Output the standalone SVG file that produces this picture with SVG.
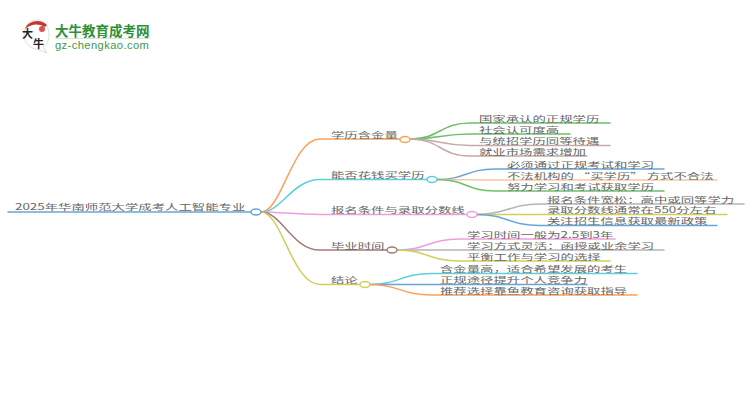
<svg xmlns="http://www.w3.org/2000/svg" width="750" height="410" viewBox="0 0 750 410">
<style>
text{font-family:"Noto Sans CJK SC","Liberation Sans",sans-serif;fill:#666;font-size:13.4px}
.c path{fill:none;stroke-width:1.5;stroke-linecap:round}
.n{fill:#fff;stroke-width:1.5}
.o{stroke:#f9a25c}.b{stroke:#5cd0df}.p{stroke:#ef9fdc}.m{stroke:#a87a78}.y{stroke:#cfcf5a}.g{stroke:#6fbf6b}.r{stroke:#c4aaa6}.l{stroke:#6aa5d8}.a{stroke:#f9c9a0}.k{stroke:#b5b5b5}
</style>
<rect width="750" height="410" fill="#fff"/>
<g id="logo">
<path d="M37 20C29 20 24 27 24 35C24 43 30 48 36 49L47 53L43 47C47 44 49 40 49 35C49 27 45 20 37 20Z" fill="#fff" stroke="#ddd" stroke-width="1"/>
<path d="M25 29C28 21 40 18 47 25L45 27C38 23 31 24 25 29Z" fill="#c8352b"/>
<circle cx="42" cy="29" r="3" fill="#d9534f"/>
<text x="22" y="38" style="font-size:11px;fill:#222;font-weight:700">大</text>
<text x="33" y="47.500" style="font-size:11px;fill:#222;font-weight:700">牛</text>
<text x="55" y="36" style="font-size:13.500px;font-weight:700;fill:#2f8f3a">大牛教育成考网</text>
<rect x="55" y="38" width="95" height="1" fill="#d5e5d5"/>
<text x="55" y="49" style="font-size:11.200px;fill:#3d9a48;font-family:'Liberation Sans',sans-serif;letter-spacing:.4px">gz-chengkao.com</text>
</g>
<g id="connectors" class="c">
<path class="l" d="M8 212H251"/>
<path class="o" d="M261 212C282 212 292 139 320 139H400"/>
<path class="b" d="M261 212C282 212 292 179.500 320 179.500H427"/>
<path class="p" d="M261 212C282 212 292 214.500 320 214.500H467"/>
<path class="m" d="M261 212C282 212 292 250 320 250H387"/>
<path class="y" d="M261 212C282 212 292 284.500 320 284.500H360"/>
<path class="g" d="M410 139C440 139 440 123 470 123H610"/>
<path class="g" d="M410 139C440 139 440 134 470 134H570"/>
<path class="r" d="M410 139C440 139 440 145.500 470 145.500H610"/>
<path class="r" d="M410 139C440 139 440 156 470 156H587"/>
<path class="l" d="M437 179.500C466 179.500 466 169 495 169H664"/>
<path class="a" d="M437 179.500C466 179.500 466 180 495 180H717"/>
<path class="g" d="M437 179.500C466 179.500 466 191 495 191H664"/>
<path class="k" d="M477 214.500C508 214.500 508 204 540 204H744"/>
<path class="y" d="M477 214.500C508 214.500 508 214.500 540 214.500H727"/>
<path class="l" d="M477 214.500C508 214.500 508 225.500 540 225.500H717"/>
<path class="p" d="M397 250C428 250 428 239 460 239H615"/>
<path class="k" d="M397 250C428 250 428 250 460 250H664"/>
<path class="y" d="M397 250C428 250 428 261 460 261H610"/>
<path class="b" d="M370 284.500C400 284.500 400 273.500 432 273.500H637"/>
<path class="l" d="M370 284.500C400 284.500 400 284.500 432 284.500H587"/>
<path class="o" d="M370 284.500C400 284.500 400 295 432 295H637"/>
</g>
<g id="root"><text transform="translate(15 210) scale(1 .62)">2025年华南师范大学成考人工智能专业</text><ellipse class="n l" cx="256" cy="212" rx="5" ry="3"/></g>
<g id="n1"><text transform="translate(331 137.500) scale(1 .62)">学历含金量</text><ellipse class="n o" cx="405" cy="139.500" rx="5" ry="3"/></g>
<g id="n2"><text transform="translate(331 178) scale(1 .62)">能否花钱买学历</text><ellipse class="n b" cx="432" cy="179.500" rx="5" ry="3"/></g>
<g id="n3"><text transform="translate(331 213) scale(1 .62)">报名条件与录取分数线</text><ellipse class="n p" cx="472" cy="214.500" rx="5" ry="3"/></g>
<g id="n4"><text transform="translate(331 248.500) scale(1 .62)">毕业时间</text><ellipse class="n m" cx="392" cy="250" rx="5" ry="3"/></g>
<g id="n5"><text transform="translate(331 283) scale(1 .62)">结论</text><ellipse class="n y" cx="365" cy="284.500" rx="5" ry="3"/></g>
<g id="l11"><text transform="translate(479 121.500) scale(1 .62)">国家承认的正规学历</text></g>
<g id="l12"><text transform="translate(479 132.500) scale(1 .62)">社会认可度高</text></g>
<g id="l13"><text transform="translate(479 144) scale(1 .62)">与统招学历同等待遇</text></g>
<g id="l14"><text transform="translate(479 154.500) scale(1 .62)">就业市场需求增加</text></g>
<g id="l21"><text transform="translate(507 167.500) scale(1 .62)">必须通过正规考试和学习</text></g>
<g id="l22"><text transform="translate(507 178.500) scale(1 .62)">不法机构的 “买学历” 方式不合法</text></g>
<g id="l23"><text transform="translate(507 189.500) scale(1 .62)">努力学习和考试获取学历</text></g>
<g id="l31"><text transform="translate(547 202.500) scale(1 .62)">报名条件宽松：高中或同等学力</text></g>
<g id="l32"><text transform="translate(547 213) scale(1 .62)">录取分数线通常在550分左右</text></g>
<g id="l33"><text transform="translate(547 224) scale(1 .62)">关注招生信息获取最新政策</text></g>
<g id="l41"><text transform="translate(467 237.500) scale(1 .62)">学习时间一般为2.5到3年</text></g>
<g id="l42"><text transform="translate(467 248.500) scale(1 .62)">学习方式灵活：函授或业余学习</text></g>
<g id="l43"><text transform="translate(467 259.500) scale(1 .62)">平衡工作与学习的选择</text></g>
<g id="l51"><text transform="translate(440 272) scale(1 .62)">含金量高，适合希望发展的考生</text></g>
<g id="l52"><text transform="translate(440 283) scale(1 .62)">正规途径提升个人竞争力</text></g>
<g id="l53"><text transform="translate(440 293.500) scale(1 .62)">推荐选择靠鱼教育咨询获取指导</text></g>
</svg>
